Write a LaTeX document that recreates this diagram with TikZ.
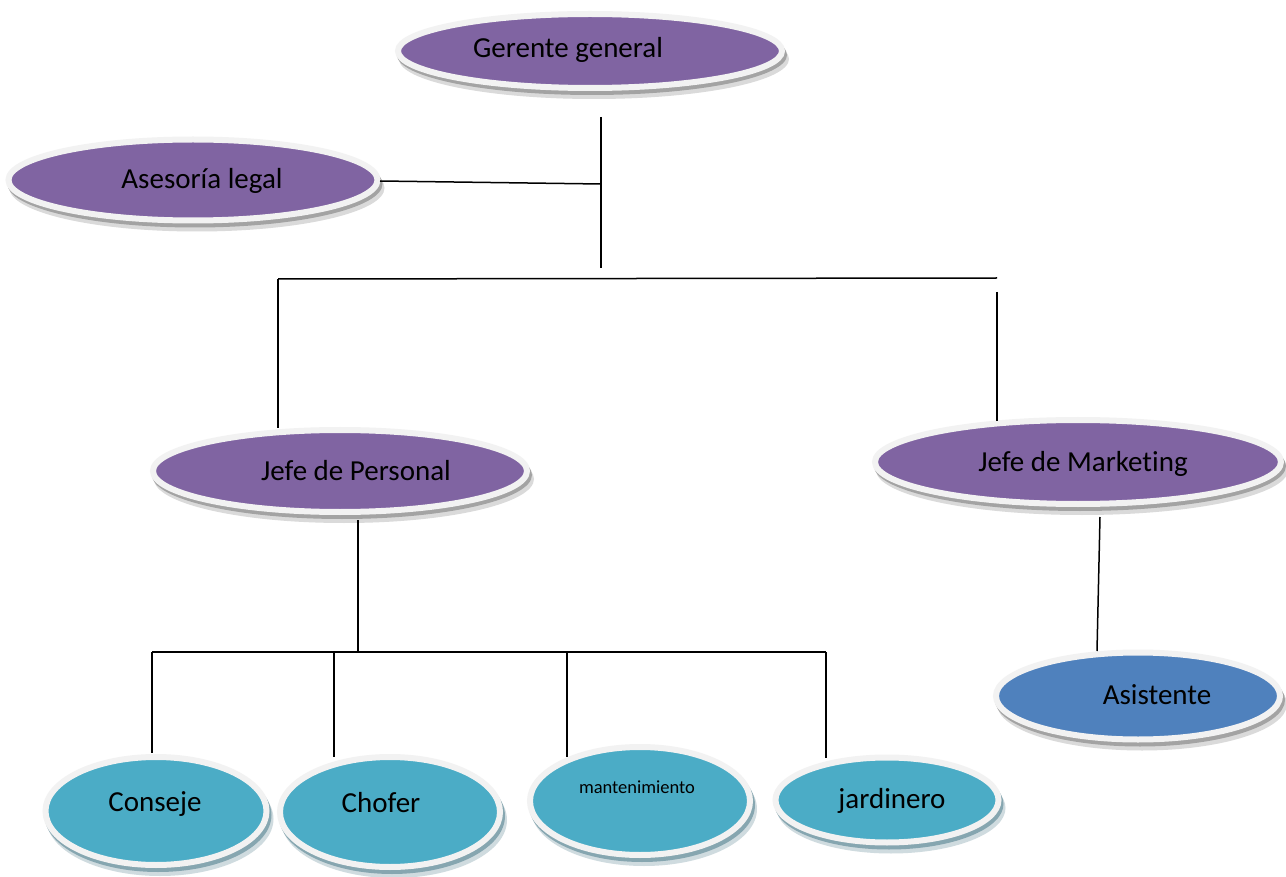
\documentclass[tikz,border=0pt]{standalone}
\usepackage{fontspec}
\setmainfont{Carlito}[RawFeature={-liga;-dlig;-clig}]
\usetikzlibrary{shapes.geometric}
\definecolor{purp}{HTML}{8064A2}
\definecolor{cyanf}{HTML}{4BACC6}
\definecolor{bluef}{HTML}{4F81BD}
\definecolor{lightbd}{HTML}{F2F2F2}
\definecolor{shgray}{HTML}{A3A3A3}
\definecolor{shcyan}{HTML}{86A6B0}
\tikzset{
  shadell/.style={ellipse, inner sep=0pt, fill=#1},
  orgell/.style={ellipse, inner sep=0pt, draw=lightbd, line width=6pt, fill=#1},
  lbl/.style={font=\fontsize{29}{34}\selectfont, inner sep=0pt, text=black},
  smalllbl/.style={font=\fontsize{18.5}{22}\selectfont, inner sep=0pt, text=black},
  conn/.style={line width=1.5pt, black}
}
% name, x, y, outer width, outer height, fill, shadow colour
\newcommand\orgellipse[7]{%
  \node[shadell=#7!40!white, minimum width=#4pt, minimum height=#5pt] at (#2+4,#3+8) {};
  \node[shadell=#7, minimum width=#4pt, minimum height=#5pt] at (#2+2,#3+4) {};
  \node[orgell=#6, minimum width=#4pt-6pt, minimum height=#5pt-6pt] (#1) at (#2,#3) {};
}
\begin{document}
\begin{tikzpicture}[x=1pt,y=-1pt]
\useasboundingbox[fill=white] (0,0) rectangle (1286,877);
% ellipses
\orgellipse{gg}{590}{51}{390}{80}{purp}{shgray}
\orgellipse{al}{193}{180}{375}{87}{purp}{shgray}
\orgellipse{jp}{340}{471}{380}{88}{purp}{shgray}
\orgellipse{jm}{1078}{462}{412}{90}{purp}{shgray}
\orgellipse{as}{1138}{696}{290}{93}{bluef}{shgray}
\orgellipse{co}{156}{811}{227}{114}{cyanf}{shcyan}
\orgellipse{ch}{390}{812}{226}{116}{cyanf}{shcyan}
\orgellipse{ma}{640}{801}{226}{114}{cyanf}{shcyan}
\orgellipse{ja}{887}{800}{229}{91}{cyanf}{shcyan}
% labels
\node[lbl] (tgg) at (568,50) {Gerente general};
\node[lbl] (tal) at (202,181) {Asesoría legal};
\node[lbl] (tjp) at (356,471) {Jefe de Personal};
\node[lbl] (tjm) at (1083,464) {Jefe de Marketing};
\node[lbl] (tas) at (1157,695) {Asistente};
\node[lbl] (tco) at (155,804) {Conseje};
\node[lbl] (tch) at (381,803) {Chofer};
\node[smalllbl] (tma) at (637,787) {mantenimiento};
\node[lbl] (tja) at (892,801) {jardinero};
% junction coordinates
\coordinate (g1) at (601,117);
\coordinate (g2) at (601,268);
\coordinate (aj) at (601,184);
\coordinate (a0) at (380,181);
\coordinate (h1) at (278,279);
\coordinate (h2) at (997,278);
\coordinate (r1) at (997,292);
\coordinate (r2) at (997,421);
\coordinate (l2) at (278,428);
\coordinate (p1) at (358,520);
\coordinate (p2) at (358,652);
\coordinate (b1) at (152,652);
\coordinate (b2) at (334,652);
\coordinate (b3) at (567,652);
\coordinate (b4) at (826,652);
\coordinate (c1) at (152,753);
\coordinate (c2) at (334,757);
\coordinate (c3) at (567,757);
\coordinate (c4) at (826,758);
\coordinate (m1) at (1100,517);
\coordinate (m2) at (1097,651);
% connectors
\draw[conn] (g1) -- (g2);
\draw[conn] (a0) -- (aj);
\draw[conn] (h1) -- (h2);
\draw[conn] (h1) -- (l2);
\draw[conn] (r1) -- (r2);
\draw[conn] (p1) -- (p2);
\draw[conn] (b1) -- (b4);
\draw[conn] (b1) -- (c1);
\draw[conn] (b2) -- (c2);
\draw[conn] (b3) -- (c3);
\draw[conn] (b4) -- (c4);
\draw[conn] (m1) -- (m2);
\end{tikzpicture}
\end{document}
